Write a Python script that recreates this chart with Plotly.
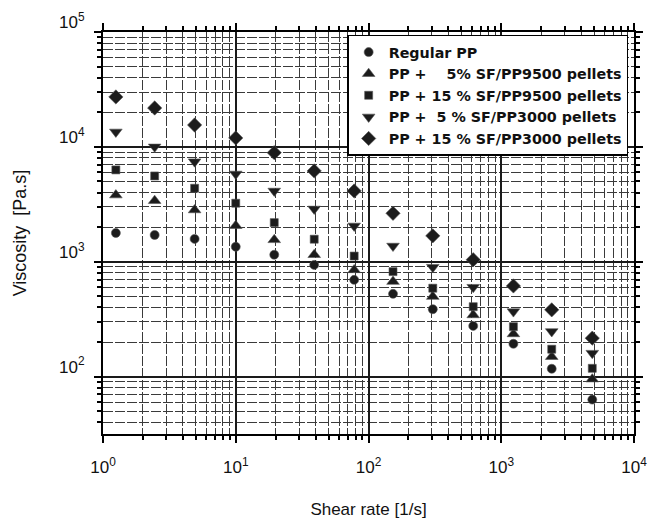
import plotly.graph_objects as go

shear_rate = [1.25, 2.45, 4.9, 10.0, 19.5, 39, 78, 153, 305, 615, 1235, 2400, 4850]

regular_pp = [1780, 1710, 1580, 1350, 1150, 938, 695, 525, 386, 276, 193, 117, 63]
pp5_9500 = [3800, 3400, 2820, 2060, 1550, 1150, 849, 671, 497, 344, 235, 149, 95]
pp15_9500 = [6300, 5580, 4360, 3230, 2190, 1570, 1120, 820, 588, 406, 272, 173, 118]
pp5_3000 = [13500, 10000, 7430, 5810, 4130, 2880, 2050, 1370, 896, 600, 368, 247, 160]
pp15_3000 = [27200, 21800, 15500, 11950, 8900, 6170, 4130, 2640, 1680, 1040, 615, 381, 216]

NB = "\u00a0"
series_names = [
    "Regular PP",
    "PP +" + NB * 4 + "5% SF/PP9500 pellets",
    "PP + 15 % SF/PP9500 pellets",
    "PP +" + NB * 2 + "5 % SF/PP3000 pellets",
    "PP + 15 % SF/PP3000 pellets",
]
series_values = [regular_pp, pp5_9500, pp15_9500, pp5_3000, pp15_3000]
symbols = ["circle", "triangle-up", "square", "triangle-down", "diamond"]
sizes = [9, 11, 8, 11, 11]

x_tickvals = [1, 10, 100, 1000, 10000]
x_ticktext = ["10<sup>0</sup>", "10<sup>1</sup>", "10<sup>2</sup>", "10<sup>3</sup>", "10<sup>4</sup>"]
y_tickvals = [100, 1000, 10000, 100000]
y_ticktext = ["10<sup>2</sup>", "10<sup>3</sup>", "10<sup>4</sup>", "10<sup>5</sup>"]

x_minor = [m * 10 ** e for e in range(0, 4) for m in range(2, 10)]
y_minor = [m * 10 ** e for e in range(1, 5) for m in range(2, 10) if m * 10 ** e > 31]

FONT = "Liberation Sans, Arial"

fig = go.Figure()
for name, vals, sym, sz in zip(series_names, series_values, symbols, sizes):
    fig.add_trace(go.Scatter(
        x=shear_rate, y=vals, mode="markers", name=name,
        marker=dict(symbol=sym, size=sz, color="#1c1c1c",
                    line=dict(color="#555555", width=0.6)),
    ))

axis_common = dict(
    type="log",
    automargin=False,
    showline=True, linecolor="black", linewidth=2,
    mirror="allticks",
    ticks="outside", ticklen=7, tickwidth=1.5, tickcolor="black",
    showgrid=True, gridcolor="#1a1a1a", gridwidth=1.6,
    zeroline=False,
    tickfont=dict(family=FONT, size=17, color="#111"),
)

minor_common = dict(tickmode="array", ticks="outside", ticklen=4,
                    tickcolor="black", showgrid=True, gridcolor="#3a3a3a",
                    griddash="10px,2px", gridwidth=1)

fig.update_xaxes(
    **axis_common,
    range=[0, 4],
    tickmode="array", tickvals=x_tickvals, ticktext=x_ticktext,
    ticklabelstandoff=10,
    minor=dict(tickvals=x_minor, **minor_common),
    title=dict(text="Shear rate [1/s]", standoff=28,
               font=dict(family=FONT, size=17, color="#111")),
)
fig.update_yaxes(
    **axis_common,
    range=[1.5, 5],
    tickmode="array", tickvals=y_tickvals, ticktext=y_ticktext,
    ticklabelstandoff=6, ticklabelshift=-10,
    minor=dict(tickvals=y_minor, **minor_common),
    title=dict(text="Viscosity" + NB * 2 + "[Pa.s]", standoff=28,
               font=dict(family=FONT, size=18, color="#111")),
)

fig.update_layout(
    width=655, height=519,
    margin=dict(l=103, r=21, t=32, b=85),
    paper_bgcolor="white", plot_bgcolor="white",
    showlegend=True,
    legend=dict(
        x=0.989, y=0.993, xanchor="right", yanchor="top",
        bgcolor="white", bordercolor="black", borderwidth=1.5,
        font=dict(family="DejaVu Sans", size=14.3, color="#111", weight="bold"),
        tracegroupgap=0, itemwidth=30,
    ),
)

fig.write_html("out.html")
